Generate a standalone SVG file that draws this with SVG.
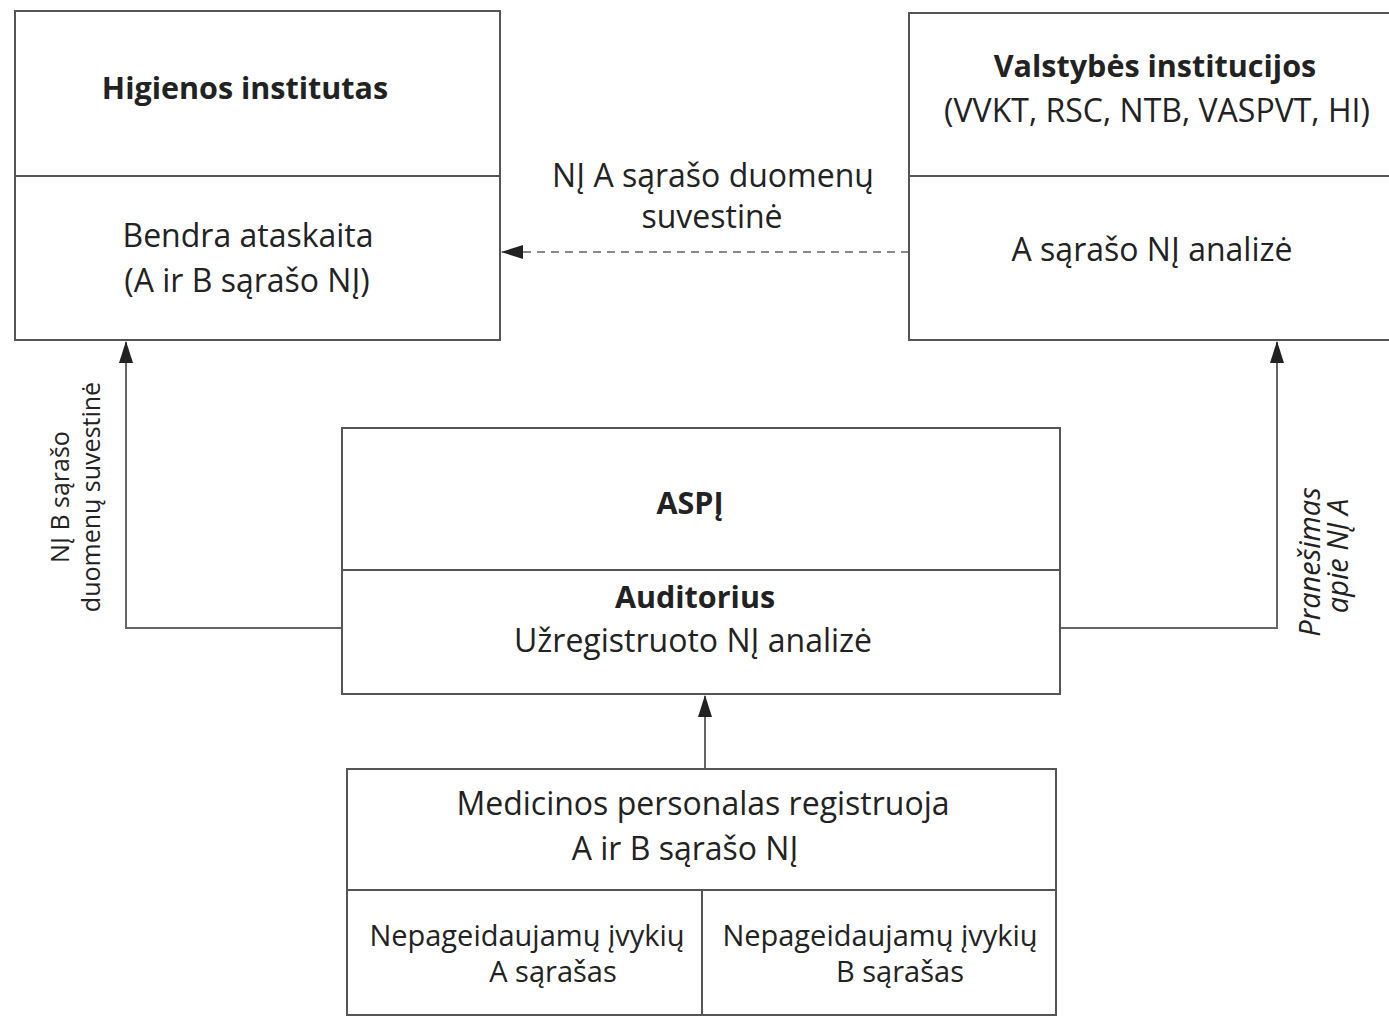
<svg xmlns="http://www.w3.org/2000/svg" width="1389" height="1016" viewBox="0 0 1389 1016">
<defs>
<marker id="ah" viewBox="0 0 22 14" refX="21" refY="7" markerWidth="22" markerHeight="14" markerUnits="userSpaceOnUse" orient="auto">
<path d="M0,0 L22,7 L0,14 z" fill="#222"/>
</marker>
</defs>
<style>
.box{fill:#fff;stroke:#555;stroke-width:2}
.div{stroke:#555;stroke-width:2}
.t{font-family:"Open Sans","Liberation Sans",sans-serif;font-size:32px;fill:#222;text-anchor:middle}
.b{font-weight:bold;font-size:30.5px}
.s{font-size:29px}
.v{font-size:25px}
.i{font-style:italic;font-size:29px}
.c{fill:none;stroke:#666;stroke-width:2}
.d{stroke-dasharray:8,6;stroke:#888}
</style>
<rect width="1389" height="1016" fill="#fff"/>
<g id="connectors">
<path class="c d" d="M909,252 L502,252" marker-end="url(#ah)"/>
<path class="c" d="M342,628 L126,628 L126,342" marker-end="url(#ah)"/>
<path class="c" d="M1060,628 L1277,628 L1277,342" marker-end="url(#ah)"/>
<path class="c" d="M705,769 L705,696" marker-end="url(#ah)"/>
<text class="t" x="713" y="187">NĮ A sąrašo duomenų</text>
<text class="t" x="712" y="228">suvestinė</text>
<text class="t v" transform="translate(69,497) rotate(-90)">NĮ B sąrašo</text>
<text class="t v" transform="translate(100,497) rotate(-90)">duomenų suvestinė</text>
<text class="t i" transform="translate(1320,562) rotate(-90)">Pranešimas</text>
<text class="t i" transform="translate(1348,556) rotate(-90)">apie NĮ A</text>
</g>
<g id="higienos">
<rect class="box" x="15" y="11" width="485" height="329"/>
<line class="div" x1="15" y1="176" x2="500" y2="176"/>
<text class="t b" x="245" y="99">Higienos institutas</text>
<text class="t" x="248" y="247">Bendra ataskaita</text>
<text class="t" x="247" y="292">(A ir B sąrašo NĮ)</text>
</g>
<g id="valstybes">
<rect class="box" x="909" y="13" width="482" height="327"/>
<line class="div" x1="909" y1="176" x2="1389" y2="176"/>
<text class="t b" x="1155" y="77">Valstybės institucijos</text>
<text class="t" x="1157" y="122">(VVKT, RSC, NTB, VASPVT, HI)</text>
<text class="t" x="1152" y="261">A sąrašo NĮ analizė</text>
</g>
<g id="aspi">
<rect class="box" x="342" y="428" width="718" height="266"/>
<line class="div" x1="342" y1="570" x2="1060" y2="570"/>
<text class="t b" x="690" y="514">ASPĮ</text>
<text class="t b" x="695" y="608">Auditorius</text>
<text class="t" x="693" y="652">Užregistruoto NĮ analizė</text>
</g>
<g id="medicinos">
<rect class="box" x="347" y="769" width="709" height="246"/>
<line class="div" x1="347" y1="890" x2="1056" y2="890"/>
<line class="div" x1="702" y1="890" x2="702" y2="1015"/>
<text class="t" x="703" y="815">Medicinos personalas registruoja</text>
<text class="t" x="685" y="860">A ir B sąrašo NĮ</text>
<text class="t s" x="527" y="946">Nepageidaujamų įvykių</text>
<text class="t s" x="553" y="982">A sąrašas</text>
<text class="t s" x="880" y="946">Nepageidaujamų įvykių</text>
<text class="t s" x="900" y="982">B sąrašas</text>
</g>
</svg>
